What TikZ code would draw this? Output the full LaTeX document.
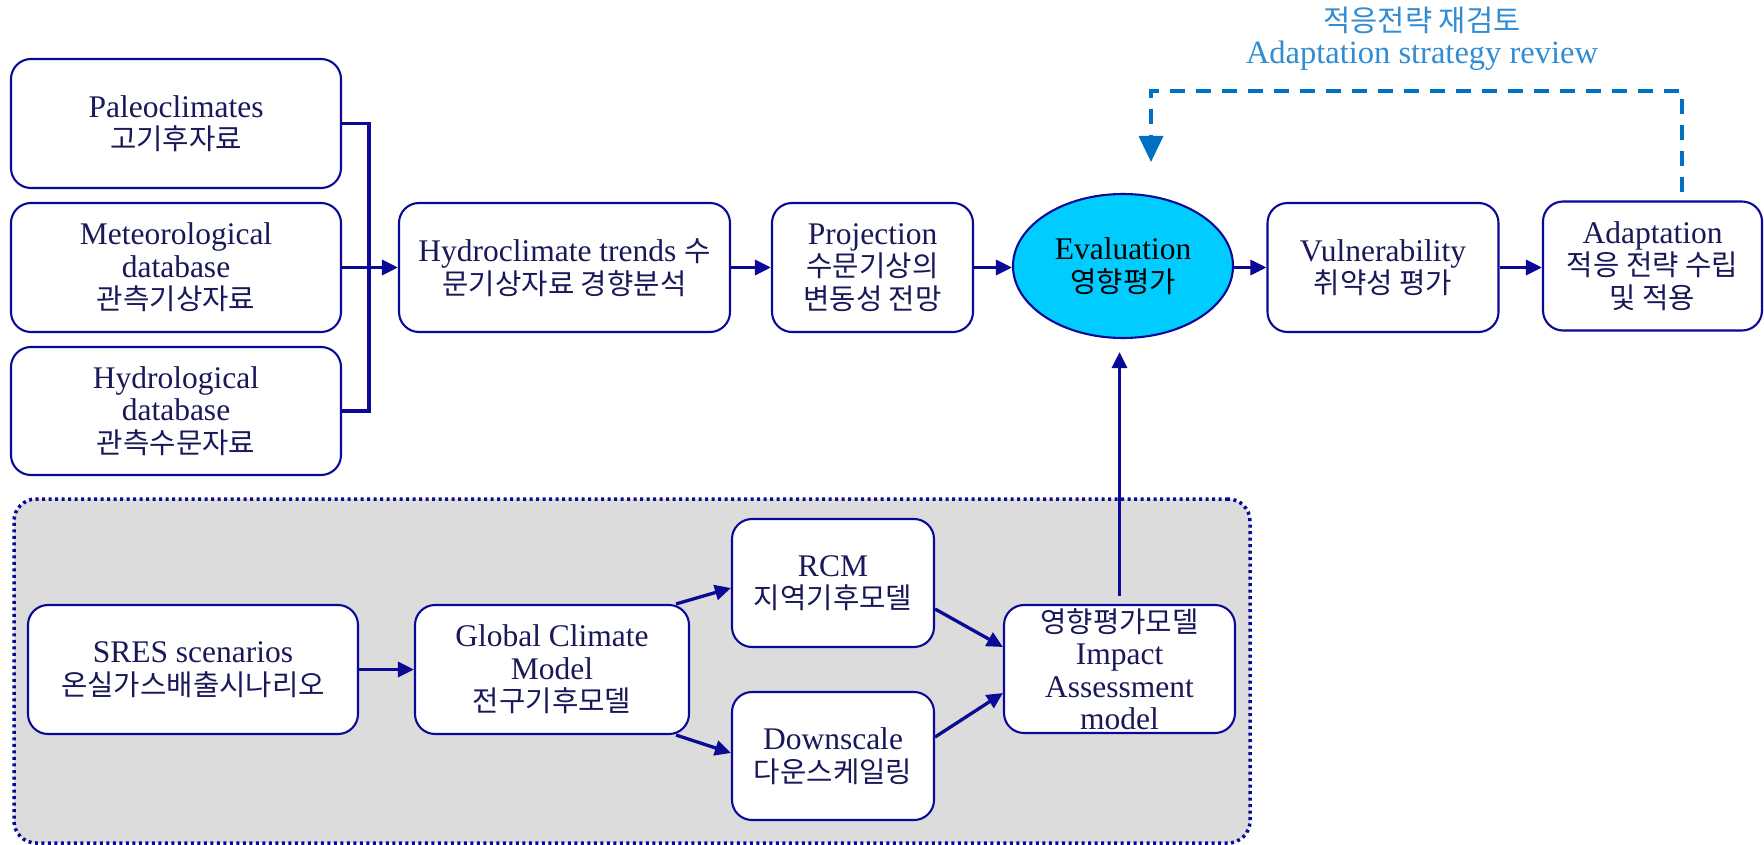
\documentclass[tikz,border=0pt]{standalone}
\usepackage{fontspec}
\setmainfont{Liberation Serif}
\newfontfamily\krfont{Noto Sans CJK KR}[Scale=0.91]
\newcommand\ko[1]{{\krfont #1}}
\usetikzlibrary{arrows.meta,shapes.geometric}

\definecolor{navyline}{RGB}{10,10,150}
\definecolor{navytext}{RGB}{25,25,90}
\definecolor{fbblue}{RGB}{0,112,192}
\definecolor{titleblue}{RGB}{50,140,210}
\definecolor{evalfill}{RGB}{0,204,255}
\definecolor{panelgray}{RGB}{220,220,220}

\begin{document}
\begin{tikzpicture}[x=1pt,y=-1pt,
  box/.style={draw=navyline, line width=2.1pt, rounded corners=20pt, fill=white,
    align=center, text=navytext, inner sep=0pt, font=\fontsize{31.5}{32.5}\selectfont},
  conn/.style={draw=navyline, line width=3.3pt, -{Triangle[length=16pt,width=15pt]}},
  busline/.style={draw=navyline, line width=3.3pt},
  feedback/.style={draw=fbblue, line width=3.5pt, dash pattern=on 15pt off 11pt,
    -{Triangle[length=26pt,width=24pt]}},
]
\fill[white] (0,0) rectangle (1764,845);
\useasboundingbox (0,0) rectangle (1764,845);

% grey panel holding the climate-model chain
\node[draw=navyline, line width=3.5pt, dash pattern=on 3pt off 3.5pt, fill=panelgray,
      rounded corners=22pt, minimum width=1236pt, minimum height=344pt, inner sep=0pt]
      (panel) at (632,671) {};

% observation data sources
\node[box, minimum width=330pt, minimum height=129pt] (paleo) at (176,123.5)
  {Paleoclimates\\\ko{고기후자료}};
\node[box, minimum width=330pt, minimum height=129pt] (meteor) at (176,267.5)
  {Meteorological\\database\\\ko{관측기상자료}};
\node[box, minimum width=330pt, minimum height=128pt] (hydro) at (176,411)
  {Hydrological\\database\\\ko{관측수문자료}};

% main assessment row
\node[box, minimum width=331pt, minimum height=129pt] (hydroclim) at (564.5,267.5)
  {Hydroclimate trends \ko{수}\\\ko{문기상자료 경향분석}};
\node[box, minimum width=201pt, minimum height=129pt] (proj) at (872.5,267.5)
  {Projection\\\ko{수문기상의}\\\ko{변동성 전망}};
\node[ellipse, draw=navyline, line width=2.1pt, fill=evalfill, text=black, align=center,
      inner sep=0pt, minimum width=220pt, minimum height=144pt,
      font=\fontsize{31.5}{32.5}\selectfont] (eval) at (1123,266)
  {Evaluation\\\ko{영향평가}};
\node[box, minimum width=231pt, minimum height=129pt] (vuln) at (1383,267.5)
  {Vulnerability\\\ko{취약성 평가}};
\node[box, minimum width=219pt, minimum height=129pt] (adapt) at (1652.5,266)
  {Adaptation\\\ko{적응 전략 수립}\\\ko{및 적용}};

% review label
\node[text=titleblue, align=center, inner sep=0pt, font=\fontsize{32.5}{32}\selectfont]
  (review) at (1422,39) {\ko{적응전략 재검토}\\Adaptation strategy review};

% climate-model chain
\node[box, minimum width=330pt, minimum height=129pt] (sres) at (193,669.5)
  {SRES scenarios\\\ko{온실가스배출시나리오}};
\node[box, minimum width=274pt, minimum height=129pt] (gcm) at (552,669.5)
  {Global Climate\\Model\\\ko{전구기후모델}};
\node[box, minimum width=202pt, minimum height=128pt] (rcm) at (833,583)
  {RCM\\\ko{지역기후모델}};
\node[box, minimum width=202pt, minimum height=128pt] (down) at (833,756)
  {Downscale\\\ko{다운스케일링}};
\node[box, minimum width=231pt, minimum height=128pt] (impact) at (1119.5,669)
  {\ko{영향평가모델}\\Impact\\Assessment\\model};

% data bus into trend analysis
\coordinate (busx) at (369,0);
\draw[busline] (paleo.east) -| (hydro.east -| busx) -- (hydro.east);
\draw[conn] (meteor.east) -- (hydroclim.west);

% main row connectors
\draw[conn] (hydroclim) -- (proj);
\draw[conn] (proj.east) -- (proj.east -| eval.west);
\draw[conn] (eval.east |- vuln.west) -- (vuln.west);
\draw[conn] (vuln.east) -- (vuln.east -| adapt.west);

% strategy review loop
\coordinate (fbStart) at (1682,192);
\coordinate (fbR) at (1682,91);
\coordinate (fbL) at (1151,91);
\coordinate (fbTip) at (1151,162);
\draw[feedback] (fbStart) -- (fbR) -- (fbL) -- (fbTip);

% model chain connectors
\draw[conn] (sres) -- (gcm);
\draw[conn] ([xshift=-14pt]gcm.north east) -- ([yshift=-5pt]rcm.west);
\draw[conn] ([xshift=-14pt]gcm.south east) -- ([yshift=3pt]down.west);
\draw[conn] ([yshift=-26pt]rcm.east) -- ([yshift=22pt]impact.west);
\draw[conn] ([yshift=19pt]down.east) -- ([yshift=-24pt]impact.west);
\draw[conn, shorten <=8pt, shorten >=13pt] (impact.north) -- (impact.north |- eval.south);
\end{tikzpicture}
\end{document}
